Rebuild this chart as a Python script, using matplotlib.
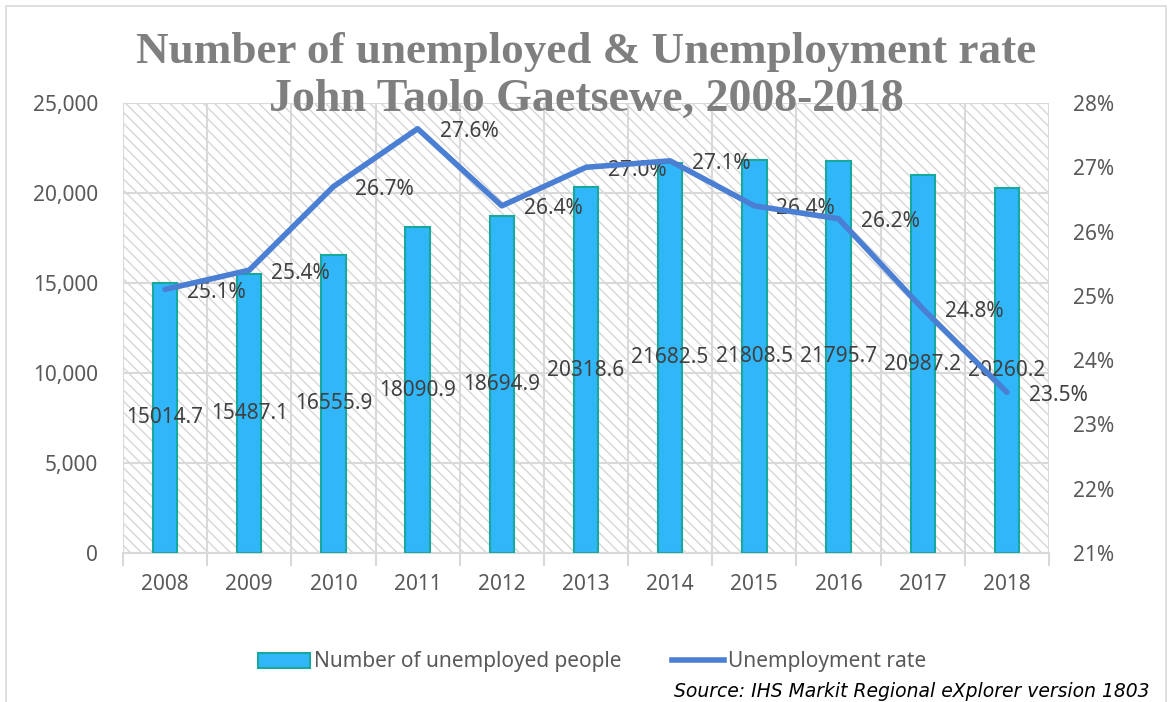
import matplotlib.pyplot as plt
from matplotlib.patches import Rectangle
from matplotlib.lines import Line2D
from matplotlib.ticker import FuncFormatter, MultipleLocator

years = ["2008", "2009", "2010", "2011", "2012", "2013", "2014", "2015", "2016", "2017", "2018"]
unemployed = [15014.7, 15487.1, 16555.9, 18090.9, 18694.9, 20318.6, 21682.5, 21808.5, 21795.7, 20987.2, 20260.2]
rate = [25.1, 25.4, 26.7, 27.6, 26.4, 27.0, 27.1, 26.4, 26.2, 24.8, 23.5]

BAR_COLOR = '#31B6F9'
BAR_EDGE = '#16A99C'
LINE_COLOR = '#4A7FD3'
GRID = '#D9D9D9'
TXT = '#595959'
LBL = '#404040'
FONT = 'Noto Sans'
FS = 15

fig = plt.figure(figsize=(11.72, 7.02), dpi=100)
ax = fig.add_axes([123 / 1172, 1 - 553 / 702, (1049 - 123) / 1172, 450 / 702])
ax2 = ax.twinx()

n = len(years)
xs = list(range(n))

# hatched plot background
ax.set_facecolor('white')
ax.add_patch(Rectangle((0, 0), 1, 1, transform=ax.transAxes, facecolor='white',
                       edgecolor='#D6D6D6', hatch='\\\\\\', linewidth=0, zorder=0))

# bars + labels in the middle of each bar
ax.bar(xs, unemployed, width=0.29, color=BAR_COLOR, edgecolor=BAR_EDGE, linewidth=1.5, zorder=3)
for x, v in zip(xs, unemployed):
    ax.text(x, v / 2, f"{v:.1f}", ha='center', va='center', fontsize=FS,
            family=FONT, color=LBL, zorder=4)

ax.set_xlim(-0.5, n - 0.5)
ax.set_ylim(0, 25000)
ax.yaxis.set_major_locator(MultipleLocator(5000))
ax.yaxis.set_major_formatter(FuncFormatter(lambda v, p: f"{int(v):,}"))
ax.set_xticks(xs)
ax.set_xticklabels(years)
ax.set_xticks([i - 0.5 for i in range(n + 1)], minor=True)
ax.tick_params(axis='x', which='major', length=0, pad=15, labelsize=FS, labelcolor=TXT)
ax.tick_params(axis='x', which='minor', length=9, color=GRID, width=1.5)
ax.tick_params(axis='y', length=0, pad=18, labelsize=FS, labelcolor=TXT)
ax.grid(axis='y', which='major', color=GRID, linewidth=1.5, zorder=1)
ax.grid(axis='x', which='minor', color=GRID, linewidth=1.5, zorder=1)
ax.set_axisbelow(True)
for s in ['top', 'left', 'right']:
    ax.spines[s].set_visible(False)
ax.spines['bottom'].set_color(GRID)
ax.spines['bottom'].set_linewidth(1.5)
for lab in ax.get_xticklabels() + ax.get_yticklabels():
    lab.set_family(FONT)

# rate line on secondary axis
ax2.plot(xs, rate, color=LINE_COLOR, linewidth=4, solid_capstyle='round', zorder=5)
for x, r in zip(xs, rate):
    ax2.annotate(f"{r:.1f}%", (x, r), xytext=(22, -3), textcoords='offset pixels',
                 ha='left', va='center', fontsize=FS, family=FONT, color=LBL)
ax2.set_ylim(21, 28)
ax2.yaxis.set_major_locator(MultipleLocator(1))
ax2.yaxis.set_major_formatter(FuncFormatter(lambda v, p: f"{int(round(v))}%"))
ax2.tick_params(axis='y', length=0, pad=17, labelsize=FS, labelcolor=TXT)
for lab in ax2.get_yticklabels():
    lab.set_family(FONT)
for s in ax2.spines.values():
    s.set_visible(False)

# title
fig.text(0.5, 1 - 52 / 702, "Number of unemployed & Unemployment rate", ha='center', va='center',
         fontsize=32.5, fontweight='bold', family='Liberation Serif', color='#7F7F7F')
fig.text(0.5, 1 - 100 / 702, "John Taolo Gaetsewe, 2008-2018", ha='center', va='center',
         fontsize=33, fontweight='bold', family='Liberation Serif', color='#7F7F7F', zorder=10)

# legend
handles = [Rectangle((0, 0), 1, 1, facecolor=BAR_COLOR, edgecolor=BAR_EDGE, linewidth=1.5),
           Line2D([0], [0], color=LINE_COLOR, linewidth=4)]
fig.legend(handles, ["Number of unemployed people", "Unemployment rate"], ncol=2,
           loc='center', bbox_to_anchor=(592 / 1172, 1 - 662 / 702), frameon=False,
           prop={'family': FONT, 'size': FS}, labelcolor=TXT, handlelength=2.5,
           handleheight=0.75, handletextpad=0.2, columnspacing=2.4)

# source note at the bottom edge
fig.text(1150 / 1172, 1 / 702, "Source: IHS Markit Regional eXplorer version 1803",
         ha='right', va='bottom', fontsize=13.5, style='italic', family='DejaVu Sans', color='#000000')

# chart border
fig.patches.append(Rectangle((6 / 1172, -0.01), 1160 / 1172, 1 - 6 / 702 + 0.01,
                             transform=fig.transFigure, fill=False, edgecolor=GRID, linewidth=1.2))

fig.savefig('out.png', dpi=100)
